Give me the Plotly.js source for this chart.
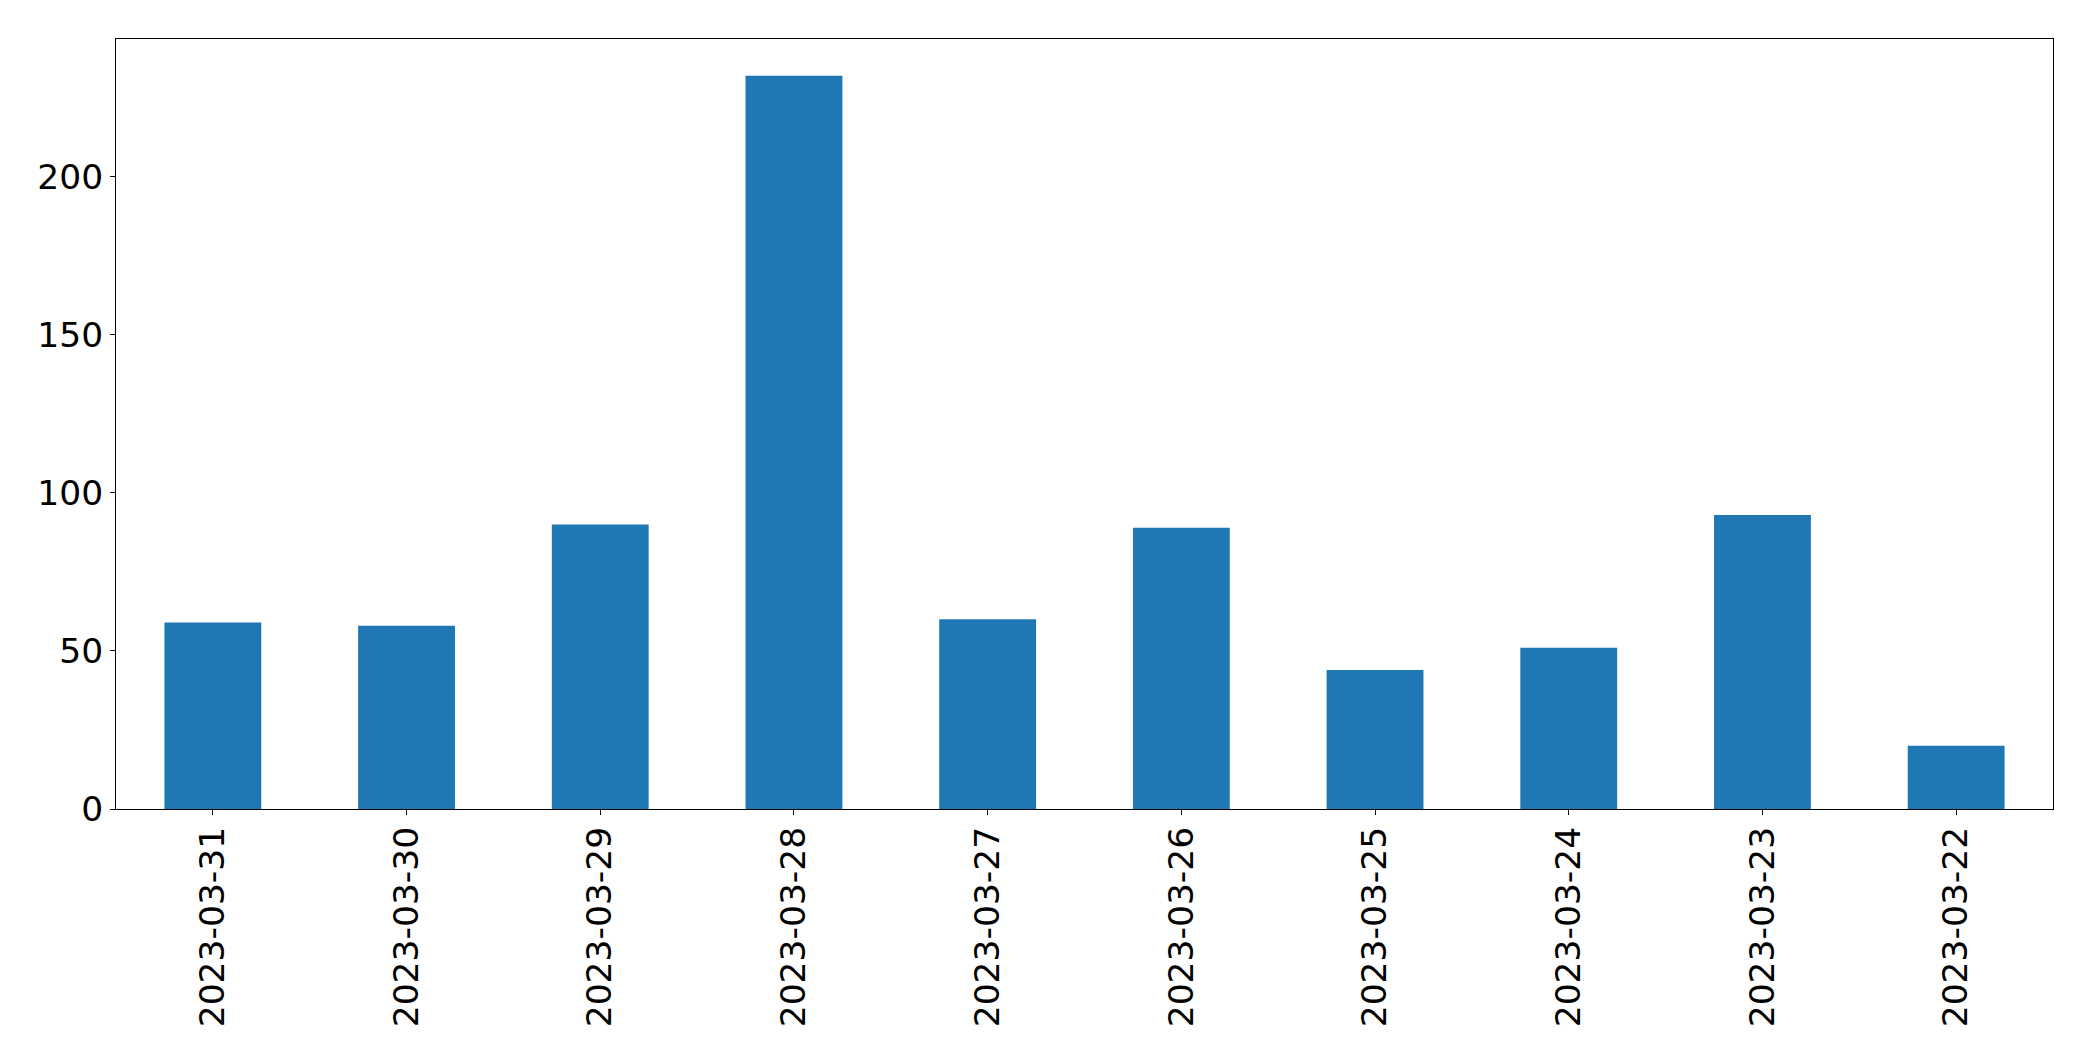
<!DOCTYPE html>
<html>
<head>
<meta charset="utf-8">
<script src="https://cdn.plot.ly/plotly-3.0.1.min.js"></script>
<style>html,body{margin:0;padding:0;background:#fff;}</style>
</head>
<body>
<div id="chart" style="width:2093px;height:1061px;"></div>
<script>
const dates = ["2023-03-31","2023-03-30","2023-03-29","2023-03-28","2023-03-27","2023-03-26","2023-03-25","2023-03-24","2023-03-23","2023-03-22"];
const counts = [59, 58, 90, 232, 60, 89, 44, 51, 93, 20];
const yTicks = [0, 50, 100, 150, 200];

const fontFamily = "DejaVu Sans, sans-serif";
const fontSize = 34.5;

Plotly.newPlot("chart", [{
  type: "bar",
  x: dates,
  y: counts,
  width: 0.5,
  marker: {color: "#1f77b4", line: {width: 0}},
  hoverinfo: "x+y"
}], {
  width: 2093,
  height: 1061,
  margin: {l: 116, r: 40, t: 39, b: 252, pad: 0},
  paper_bgcolor: "#ffffff",
  plot_bgcolor: "#ffffff",
  showlegend: false,
  font: {family: fontFamily, size: fontSize, color: "#000000"},
  xaxis: {
    type: "category",
    range: [-0.5, 9.5],
    tickangle: -90,
    ticks: "outside",
    ticklen: 5,
    tickwidth: 1,
    tickcolor: "#000000",
    showline: true,
    linecolor: "#000000",
    linewidth: 1,
    mirror: true,
    showgrid: false,
    zeroline: false,
    tickfont: {family: fontFamily, size: fontSize, color: "#000000"},
    ticklabelstandoff: -2
  },
  yaxis: {
    range: [0, 243.6],
    tickvals: yTicks,
    ticktext: yTicks.map(String),
    ticks: "outside",
    ticklen: 5,
    tickwidth: 1,
    tickcolor: "#000000",
    showline: true,
    linecolor: "#000000",
    linewidth: 1,
    mirror: true,
    showgrid: false,
    zeroline: false,
    tickfont: {family: fontFamily, size: fontSize, color: "#000000"},
    ticklabelstandoff: 0
  }
}, {displayModeBar: false, staticPlot: true});
</script>
</body>
</html>
